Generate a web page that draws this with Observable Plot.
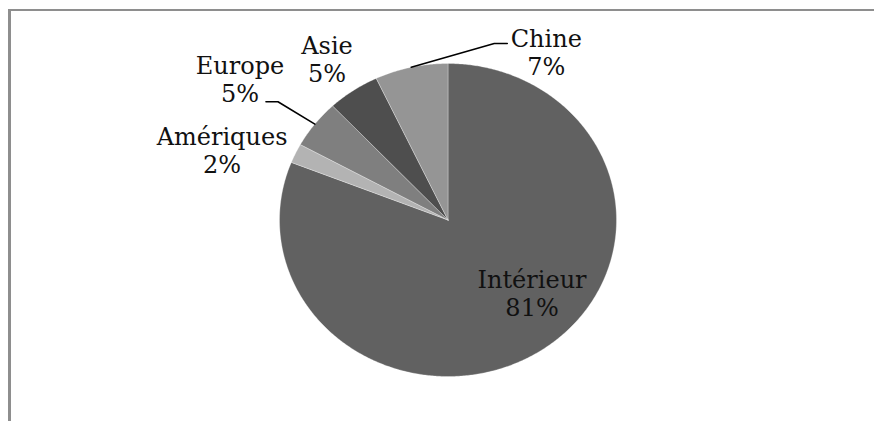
<!DOCTYPE html>
<html>
<head>
<meta charset="utf-8">
<script src="https://cdn.jsdelivr.net/npm/d3@7"></script>
<script src="https://cdn.jsdelivr.net/npm/@observablehq/plot@0.6"></script>
<style>
  html, body { margin: 0; padding: 0; background: #fff; overflow: hidden; }
  #wrap { position: relative; width: 874px; height: 421px; }
  #frame { position: absolute; left: 8px; top: 9px; width: 900px; height: 450px;
           border-left: 3px solid #8e8e8e; border-top: 2px solid #8e8e8e; box-sizing: border-box; }
  #chart { position: absolute; left: 0; top: 0; }
</style>
</head>
<body>
<div id="wrap"><div id="frame"></div><div id="chart"></div></div>
<script>
// ---- data ----
const names = ["Intérieur", "Amériques", "Europe", "Asie", "Chine"];
const values = [81, 2, 5, 5, 7];
const pctLabels = ["81%", "2%", "5%", "5%", "7%"];
const colors = ["#616161", "#b3b3b3", "#7f7f7f", "#4e4e4e", "#959595"];

// ---- layout ----
const W = 874, H = 421;
const mL = 279, mR = 258, mT = 63, mB = 45;
const kx = (W - mL - mR) / 2, ky = (H - mT - mB) / 2; // px per unit
const FONT = "'DejaVu Serif', serif";
const FS = 24;
// label placement: angle shift (deg) from slice mid-angle, radius (unit)
const labelLayout = {
  "Intérieur": {a: -12.8, r: 0.682},
  "Amériques": {a: -6.7, r: 1.414},
  "Europe": {a: -1.7, r: 1.528},
  "Asie": {a: -0.7, r: 1.255},
  "Chine": {a: 41.1, r: 1.222}
};
// leader lines: pixel offsets from the label anchor (elbow, end)
const leaderLayout = {
  "Chine": {elbow: [-52, -8.4], end: [-39, -8.4]},
  "Europe": {elbow: [38, 22.6], end: [26, 22.6]}
};

const total = d3.sum(values);
let cum = 0;
const slices = names.map((name, i) => {
  const s = cum / total; cum += values[i]; const e = cum / total;
  return {name, value: values[i], pct: pctLabels[i], color: colors[i], s, e, mid: (s + e) / 2};
});

const polar = (frac, r) => {
  const t = frac * 2 * Math.PI;
  return [r * Math.sin(t), r * Math.cos(t)];
};

// slice outlines
const pts = [];
for (const sl of slices) {
  pts.push({name: sl.name, x: 0, y: 0});
  const n = Math.max(2, Math.ceil((sl.e - sl.s) * 720));
  for (let k = 0; k <= n; k++) {
    const [x, y] = polar(sl.s + (sl.e - sl.s) * k / n, 1);
    pts.push({name: sl.name, x, y});
  }
  pts.push({name: sl.name, x: 0, y: 0});
}

// labels
const labels = slices.map(sl => {
  const L = labelLayout[sl.name];
  const [x, y] = polar(sl.mid + L.a / 360, L.r);
  return {name: sl.name, text: sl.name + "\n" + sl.pct, x, y};
});

// leaders
const leaders = [];
for (const sl of slices) {
  const ld = leaderLayout[sl.name];
  if (!ld) continue;
  const lab = labels.find(l => l.name === sl.name);
  const [x0, y0] = polar(sl.mid, 1);
  leaders.push({name: sl.name, x: x0, y: y0});
  leaders.push({name: sl.name, x: lab.x + ld.elbow[0] / kx, y: lab.y - ld.elbow[1] / ky});
  leaders.push({name: sl.name, x: lab.x + ld.end[0] / kx, y: lab.y - ld.end[1] / ky});
}

const chart = Plot.plot({
  width: W, height: H,
  marginLeft: mL, marginRight: mR, marginTop: mT, marginBottom: mB,
  x: {domain: [-1, 1], axis: null},
  y: {domain: [-1, 1], axis: null},
  color: {domain: names, range: colors},
  style: {background: "transparent"},
  marks: [
    Plot.line(pts, {x: "x", y: "y", z: "name", fill: "name", stroke: "#ffffff", strokeWidth: 0.6, strokeOpacity: 0.5, curve: "linear"}),
    Plot.line(leaders, {x: "x", y: "y", z: "name", stroke: "#000", strokeWidth: 1.6}),
    Plot.text(labels, {x: "x", y: "y", text: "text", fontSize: FS, fontFamily: FONT, lineHeight: 1.17,
      textAnchor: "middle", lineAnchor: "middle", fill: "#111"})
  ]
});
chart.style.overflow = "visible";
document.getElementById("chart").append(chart);
</script>
</body>
</html>
